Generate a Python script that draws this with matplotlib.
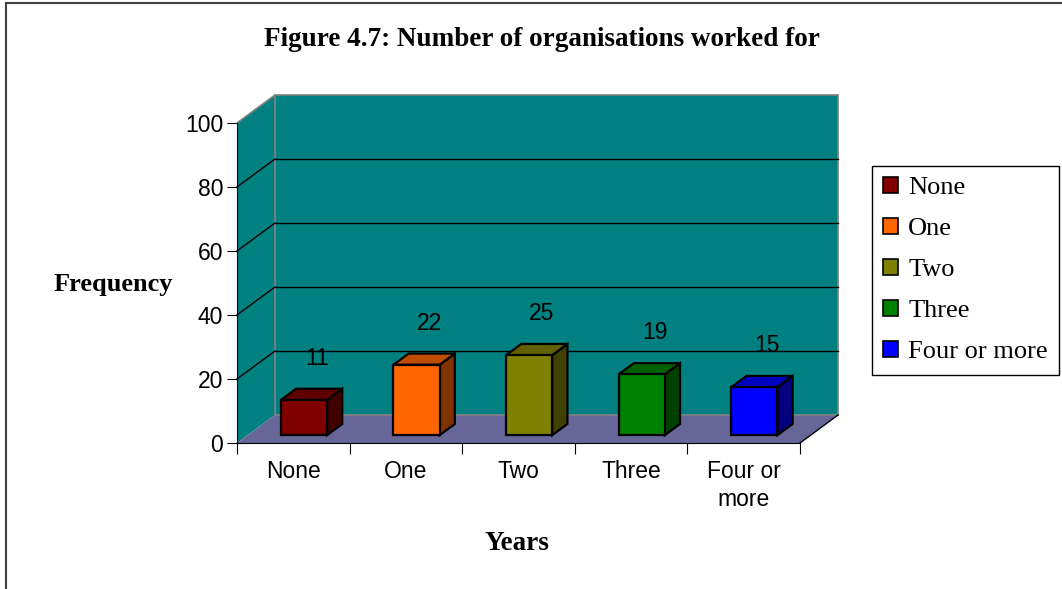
import matplotlib.pyplot as plt
from matplotlib.patches import Polygon, Patch
from matplotlib.lines import Line2D

categories = ['None', 'One', 'Two', 'Three', 'Four or\nmore']
legend_labels = ['None', 'One', 'Two', 'Three', 'Four or more']
values = [11, 22, 25, 19, 15]
front_colors = ['#800000', '#FF6600', '#808000', '#008000', '#0000FF']
top_colors = ['#600000', '#C04C00', '#606000', '#006000', '#0000C0']
side_colors = ['#400000', '#803300', '#404000', '#004000', '#000080']

W, H = 1062, 589
fig = plt.figure(figsize=(W / 100, H / 100), dpi=100)

# front plane of the plot in pixels
x0, x1, y0, y1 = 237, 800, 443, 123
ax = fig.add_axes([x0 / W, 1 - y0 / H, (x1 - x0) / W, (y0 - y1) / H])
ax.set_xlim(0, 5)
ax.set_ylim(0, 100)
ax.set_facecolor('none')

# depth offset of the 3D box in data units
DX, DY = 38 / 112.6, 8.75


def poly(pts, fc, ec='none', lw=1.0, z=1):
    ax.add_patch(Polygon(pts, closed=True, facecolor=fc, edgecolor=ec,
                         linewidth=lw, clip_on=False, zorder=z))


def line(xs, ys, c='black', lw=1.0, z=2):
    ax.add_line(Line2D(xs, ys, color=c, linewidth=lw, clip_on=False, zorder=z))


teal = '#008080'
grey = '#808080'
n = len(values)
# walls and floor
poly([(DX, DY), (n + DX, DY), (n + DX, 100 + DY), (DX, 100 + DY)], teal, grey, 1.2)
poly([(0, 0), (DX, DY), (DX, 100 + DY), (0, 100)], teal, z=1)
poly([(0, 0), (n, 0), (n + DX, DY), (DX, DY)], '#666699', z=1)
line([0, DX], [100, 100 + DY], grey, 1.2)
line([DX, DX], [DY, 100 + DY], grey, 1.2)
line([DX, n + DX], [DY, DY], grey, 1.2)
line([n, n + DX], [0, DY], 'black', 1.0)

for v in [20, 40, 60, 80]:
    line([0, DX], [v, v + DY], 'black', 1.0)
    line([DX, n + DX], [v + DY, v + DY], 'black', 1.0)

# bars
d0, d1 = 0.28, 0.68
bw = 0.41
for i, (v, fc, tc, sc) in enumerate(zip(values, front_colors, top_colors, side_colors)):
    left = i + 0.5 - bw / 2
    right = left + bw
    bx0, by0 = d0 * DX, d0 * DY
    bx1, by1 = d1 * DX, d1 * DY
    poly([(right + bx0, by0), (right + bx1, by1), (right + bx1, v + by1), (right + bx0, v + by0)],
         sc, 'black', 1.6, 3)
    poly([(left + bx0, v + by0), (right + bx0, v + by0), (right + bx1, v + by1), (left + bx1, v + by1)],
         tc, 'black', 1.6, 3)
    poly([(left + bx0, by0), (right + bx0, by0), (right + bx0, v + by0), (left + bx0, v + by0)],
         fc, 'black', 1.6, 4)
    dl = 0.62
    ax.text(i + 0.5 + dl * DX, v + 10 + dl * DY, str(v), ha='center', va='center',
            fontsize=16.5, family='Liberation Sans', zorder=5)

# axes
for s in ['top', 'right']:
    ax.spines[s].set_visible(False)
ax.spines['left'].set_zorder(6)
ax.spines['bottom'].set_zorder(6)
ax.set_yticks(range(0, 101, 20))
ax.set_xticks(range(0, n + 1))
ax.set_xticklabels([])
ax.set_xticks([i + 0.5 for i in range(n)], minor=True)
ax.set_xticklabels(categories, minor=True, fontsize=16.5, family='Liberation Sans',
                   linespacing=1.3)
ax.tick_params(axis='x', which='major', length=8, direction='out')
ax.tick_params(axis='x', which='minor', length=0, pad=12)
ax.tick_params(axis='y', length=7, direction='out', labelsize=16.5, pad=3)
for t in ax.get_yticklabels():
    t.set_family('Liberation Sans')

fig.text(542 / W, 1 - 40 / H, 'Figure 4.7: Number of organisations worked for',
         ha='center', va='center', fontsize=19.5, fontweight='bold', family='Liberation Serif')
fig.text(113 / W, 1 - 284 / H, 'Frequency', ha='center', va='center',
         fontsize=19, fontweight='bold', family='Liberation Serif')
fig.text(517 / W, 1 - 544 / H, 'Years', ha='center', va='center',
         fontsize=19.5, fontweight='bold', family='Liberation Serif')

handles = [Patch(facecolor=c, edgecolor='black', linewidth=1.2) for c in front_colors]
leg = fig.legend(handles, legend_labels, loc='upper left',
                 bbox_to_anchor=(872 / W, 1 - 166 / H),
                 prop={'family': 'Liberation Serif', 'size': 19},
                 frameon=True, fancybox=False, framealpha=1, edgecolor='black',
                 handlelength=0.55, handleheight=0.55, handletextpad=0.4,
                 labelspacing=0.71, borderpad=0.42, borderaxespad=0)
leg.get_frame().set_linewidth(1.0)

# outer border of the figure
fig.add_artist(Line2D([6 / W, 6 / W], [0, 1 - 3 / H], transform=fig.transFigure,
                      color='#404040', linewidth=1.5))
fig.add_artist(Line2D([6 / W, 1], [1 - 3 / H, 1 - 3 / H], transform=fig.transFigure,
                      color='#404040', linewidth=1.5))

fig.savefig('out.png', dpi=100)
